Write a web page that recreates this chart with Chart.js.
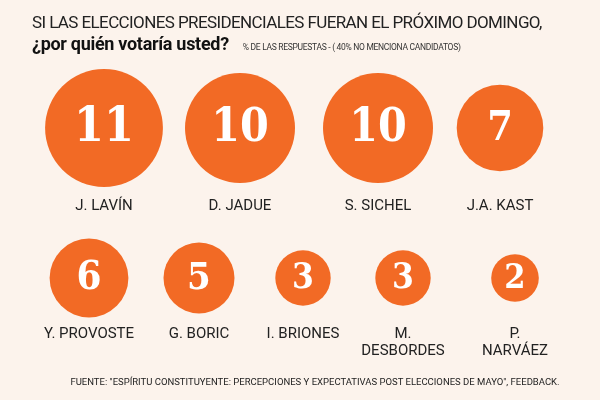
<!DOCTYPE html>
<html><head><meta charset="utf-8">
<script src="https://cdn.jsdelivr.net/npm/chart.js@4/dist/chart.umd.min.js"></script>
<style>
html,body{margin:0;padding:0;background:#fcf3ec;}
#wrap{position:relative;width:600px;height:400px;font-family:'Liberation Sans Narrow','Roboto',sans-serif;}
#t1{position:absolute;left:32px;top:12px;font-size:17px;color:#222;letter-spacing:-0.6px;}
#t2{position:absolute;left:32px;top:33px;font-size:18px;font-weight:bold;color:#111;letter-spacing:-0.3px;}
#t2 span{font-size:8.5px;font-weight:normal;margin-left:14px;color:#333;letter-spacing:-0.3px;}
#src{position:absolute;left:0;width:600px;text-align:center;top:376px;font-size:9.5px;color:#222;padding-left:30px;box-sizing:border-box;}
canvas{position:absolute;left:0;top:0;}
</style></head><body>
<div id="wrap">
<canvas id="c" width="600" height="400"></canvas>
<div id="t1">SI LAS ELECCIONES PRESIDENCIALES FUERAN EL PRÓXIMO DOMINGO,</div>
<div id="t2">¿por quién votaría usted?<span>% DE LAS RESPUESTAS - ( 40% NO MENCIONA CANDIDATOS)</span></div>
<div id="src">FUENTE: "ESPÍRITU CONSTITUYENTE: PERCEPCIONES Y EXPECTATIVAS POST ELECCIONES DE MAYO", FEEDBACK.</div>
</div>
<script>
const candidates=["J. LAVÍN","D. JADUE","S. SICHEL","J.A. KAST","Y. PROVOSTE","G. BORIC","I. BRIONES","M.|DESBORDES","P.|NARVÁEZ"];
const values=[11,10,10,7,6,5,3,3,2];
const row1X=[104,240,378,500], row2X=[89,199,303,403,515];
const pts=values.map((v,i)=>i<4?{x:row1X[i],y:128,v}:{x:row2X[i-4],y:278,v});
const rad=v=>16+3.9*v;
const labels={id:'lbl',afterDatasetsDraw(ch){
 const ctx=ch.ctx;const meta=ch.getDatasetMeta(0);
 meta.data.forEach((el,i)=>{
  const v=values[i],r=rad(v);
  ctx.save();ctx.textAlign='center';ctx.textBaseline='middle';
  ctx.fillStyle='#fff';ctx.font='bold '+Math.round(24+0.4*r)+'px "DejaVu Serif Condensed","DejaVu Serif",serif';
  ctx.fillText(String(v),el.x,el.y+1);
  ctx.fillStyle='#222';ctx.font='15px "Liberation Sans Narrow",Roboto,sans-serif';
  candidates[i].split('|').forEach((ln,j)=>ctx.fillText(ln,el.x,(i<4?206:334)+j*17));
  ctx.restore();
 });
}};
new Chart(document.getElementById('c'),{type:'bubble',
 data:{datasets:[{data:pts,backgroundColor:'#f26a25',borderWidth:0,radius:c=>rad(values[c.dataIndex])}]},
 options:{responsive:false,animation:false,layout:{padding:0,autoPadding:false},
  plugins:{legend:{display:false},tooltip:{enabled:false}},
  scales:{x:{type:'linear',min:0,max:600,display:false},y:{type:'linear',min:0,max:400,reverse:true,display:false}}},
 plugins:[labels]});
</script></body></html>
